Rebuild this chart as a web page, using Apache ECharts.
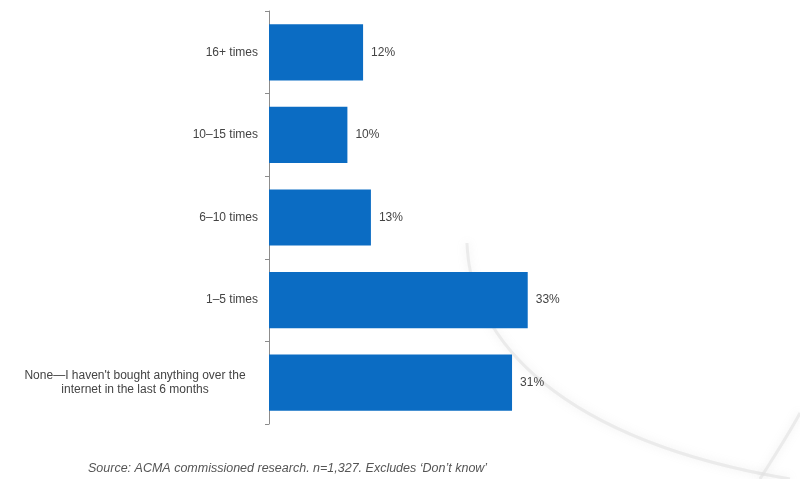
<!DOCTYPE html>
<html>
<head>
<meta charset="utf-8">
<style>
  html, body { margin: 0; padding: 0; background: #ffffff; }
  #chart { width: 800px; height: 479px; }
</style>
<script src="https://cdn.jsdelivr.net/npm/echarts@6/dist/echarts.min.js"></script>
</head>
<body>
<div id="chart"></div>
<script>
// Purchase frequency categories, listed top to bottom
const categories = [
  '16+ times',
  '10\u201315 times',
  '6\u201310 times',
  '1\u20135 times',
  'None\u2014I haven\'t bought anything over the\ninternet in the last 6 months'
];
// Share of respondents (%)
const shares = [12, 10, 13, 33, 31];
const sourceNote = 'Source: ACMA commissioned research. n=1,327. Excludes \u2018Don\u2019t know\u2019';

const chart = echarts.init(document.getElementById('chart'));

// Soft grey background swooshes
const swooshStyle = {
  fill: null,
  stroke: 'rgba(225,225,225,0.6)',
  lineWidth: 3,
  shadowBlur: 8,
  shadowColor: 'rgba(170,170,170,0.35)'
};

chart.setOption({
  backgroundColor: '#ffffff',
  animation: false,
  textStyle: { fontFamily: 'Liberation Sans, Arial, sans-serif' },
  grid: { left: 269, right: 139, top: 11, bottom: 55 },
  graphic: [
    {
      type: 'bezierCurve',
      z: -10,
      silent: true,
      shape: { x1: 467, y1: 243, cpx1: 470, cpy1: 340, cpx2: 560, cpy2: 440, x2: 790, y2: 479 },
      style: swooshStyle
    },
    {
      type: 'bezierCurve',
      z: -10,
      silent: true,
      shape: { x1: 760, y1: 479, cpx1: 775, cpy1: 455, cpx2: 790, cpy2: 432, x2: 800, y2: 413 },
      style: swooshStyle
    },
    {
      type: 'text',
      left: 88,
      top: 462,
      style: {
        text: sourceNote,
        font: 'italic 12.5px "Liberation Sans", Arial, sans-serif',
        fill: '#555555'
      }
    }
  ],
  xAxis: {
    type: 'value',
    min: 0,
    max: 50,
    show: false
  },
  yAxis: {
    type: 'category',
    inverse: true,
    data: categories,
    axisLine: { show: true, lineStyle: { color: '#8c8c8c', width: 1 } },
    axisTick: { show: true, length: 4, lineStyle: { color: '#8c8c8c' } },
    axisLabel: {
      margin: 11,
      color: '#444444',
      fontSize: 12,
      lineHeight: 14,
      formatter: function (v) {
        return v.indexOf('\n') >= 0 ? '{c|' + v + '}' : v;
      },
      rich: {
        c: { width: 246, align: 'center', fontSize: 12, lineHeight: 14, color: '#444444' }
      }
    },
    splitLine: { show: false }
  },
  series: [
    {
      type: 'bar',
      data: shares,
      barWidth: '68%',
      itemStyle: { color: '#0b6cc3' },
      label: {
        show: true,
        position: 'right',
        distance: 8,
        formatter: '{c}%',
        color: '#444444',
        fontSize: 12
      }
    }
  ]
});
</script>
</body>
</html>
